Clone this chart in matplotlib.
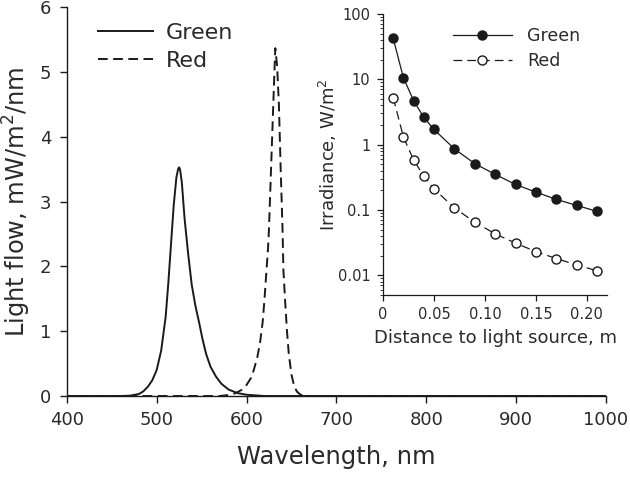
import matplotlib

matplotlib.use("Agg")
import matplotlib.pyplot as plt
from matplotlib.ticker import FixedLocator, LogLocator, NullFormatter

# emission spectra (nm, mW/m2/nm)
green_wl = [400, 460, 470, 480, 485, 490, 495, 500, 505, 510, 513, 516, 519,
            522, 524, 525, 526, 528, 531, 535, 539, 543, 547, 551, 555, 560,
            566, 572, 580, 590, 600, 610, 620, 1000]
green_flow = [0, 0, 0.005, 0.03, 0.07, 0.14, 0.24, 0.40, 0.70, 1.22, 1.75,
              2.35, 2.95, 3.38, 3.51, 3.53, 3.50, 3.30, 2.75, 2.20, 1.72, 1.40,
              1.15, 0.88, 0.65, 0.45, 0.30, 0.19, 0.10, 0.045, 0.02, 0.01, 0, 0]

red_wl = [400, 570, 580, 585, 590, 595, 600, 605, 608, 612, 615, 618, 620, 622,
          624, 625, 627, 629, 631, 632, 634, 636, 638, 640, 641, 643, 645, 647,
          650, 653, 656, 660, 670, 1000]
red_flow = [0, 0, 0.015, 0.03, 0.06, 0.10, 0.17, 0.28, 0.40, 0.60, 0.82, 1.15,
            1.50, 1.90, 2.30, 2.60, 3.40, 4.20, 5.00, 5.37, 5.10, 4.50, 3.50,
            2.60, 1.95, 1.45, 1.00, 0.65, 0.33, 0.15, 0.07, 0.02, 0, 0]

# irradiance vs distance (m, W/m2)
distance = [0.01, 0.02, 0.03, 0.04, 0.05, 0.07, 0.09, 0.11, 0.13, 0.15, 0.17,
            0.19, 0.21]
green_irr = [42, 10.5, 4.7, 2.6, 1.7, 0.86, 0.51, 0.35, 0.245, 0.187, 0.145,
             0.117, 0.095]
red_irr = [5.2, 1.3, 0.58, 0.33, 0.21, 0.107, 0.065, 0.043, 0.031, 0.023,
           0.018, 0.0144, 0.0117]

inset_xticks = [0, 0.05, 0.10, 0.15, 0.20]
inset_xlabels = ["0", "0.05", "0.10", "0.15", "0.20"]
inset_yticks = [0.01, 0.1, 1, 10, 100]
inset_ylabels = ["0.01", "0.1", "1", "10", "100"]

plt.rcParams["font.family"] = ["DejaVu Sans"]
ink = "#1a1a1a"
txt = "#2a2a2a"

fig = plt.figure(figsize=(6.3, 4.78), dpi=100)

ax = fig.add_axes([0.106, 0.1715, 0.856, 0.813])
ax.plot(green_wl, green_flow, "-", color=ink, lw=1.4, label="Green")
ax.plot(red_wl, red_flow, "--", color=ink, lw=1.4, dashes=(5, 2.8), label="Red")
ax.set_xlim(400, 1000)
ax.set_ylim(0, 6)
ax.set_xticks(range(400, 1001, 100))
ax.set_yticks(range(0, 7))
for side in ("top", "right"):
    ax.spines[side].set_visible(False)
for side in ("left", "bottom"):
    ax.spines[side].set_color(ink)
    ax.spines[side].set_linewidth(1.0)
ax.tick_params(direction="out", length=5, width=1, colors=ink,
               labelcolor=txt, labelsize=13, pad=6)
ax.set_xlabel("Wavelength, nm", fontsize=17.5, color=txt, labelpad=11)
ax.set_ylabel("Light flow, mW/m$^2$/nm", fontsize=17.4, color=txt, labelpad=5)
ax.legend(loc="upper left", bbox_to_anchor=(0.021, 1.012), frameon=False,
          fontsize=16, handlelength=2.45, handletextpad=0.6, labelspacing=0.35,
          labelcolor=txt)

ins = fig.add_axes([0.608, 0.383, 0.356, 0.588])
ins.plot(distance, green_irr, "-o", color=ink, lw=0.9, ms=6.5,
         mfc=ink, mec=ink, label="Green")
ins.plot(distance, red_irr, "--o", color=ink, lw=0.9, ms=6.5, dashes=(7, 4),
         mfc="white", mec=ink, label="Red")
ins.set_yscale("log")
ins.set_xlim(0, 0.22)
ins.set_ylim(0.005, 100)
ins.xaxis.set_major_locator(FixedLocator(inset_xticks))
ins.set_xticklabels(inset_xlabels)
ins.set_yticks(inset_yticks)
ins.set_yticklabels(inset_ylabels)
ins.yaxis.set_minor_locator(LogLocator(base=10, subs=range(2, 10)))
ins.yaxis.set_minor_formatter(NullFormatter())
for side in ("top", "right"):
    ins.spines[side].set_visible(False)
for side in ("left", "bottom"):
    ins.spines[side].set_color(ink)
    ins.spines[side].set_linewidth(0.9)
ins.tick_params(which="major", direction="out", length=4, width=0.9,
                colors=ink, labelcolor=txt, labelsize=10.5, pad=5)
ins.tick_params(which="minor", direction="out", length=2, width=0.6, colors=ink)
ins.set_xlabel("Distance to light source, m", fontsize=13, color=txt, labelpad=5)
ins.set_ylabel("Irradiance, W/m$^2$", fontsize=13, color=txt, labelpad=-1)
ins.legend(loc="upper right", bbox_to_anchor=(0.95, 1.01), frameon=False,
           fontsize=12.5, handlelength=3.4, handletextpad=0.9, labelspacing=0.4,
           labelcolor=txt)

fig.savefig("out.png", dpi=100)
